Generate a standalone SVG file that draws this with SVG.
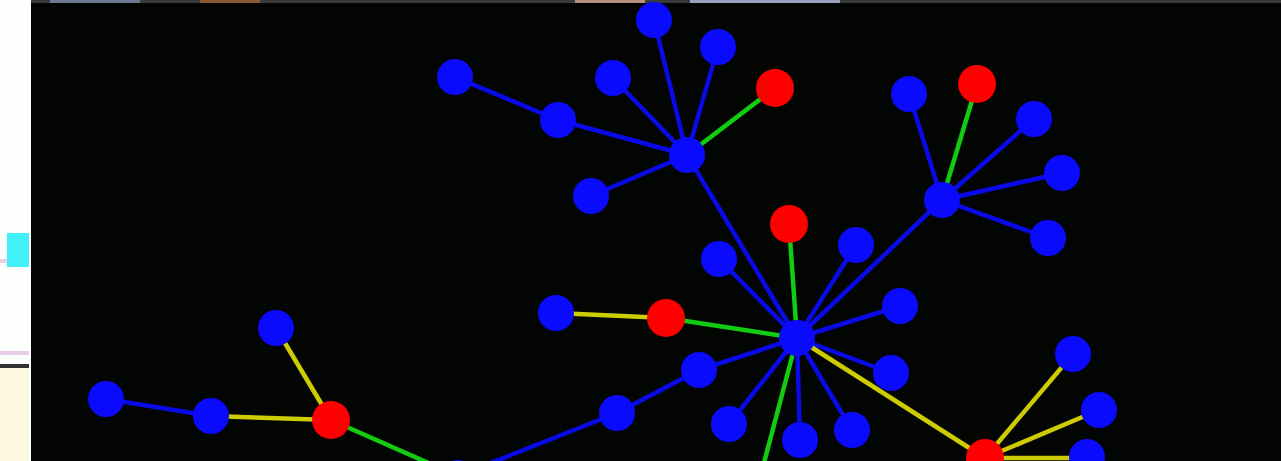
<svg xmlns="http://www.w3.org/2000/svg" width="1281" height="461" viewBox="0 0 1281 461">
<style>
.b{fill:#0a0aff}
.r{fill:#ff0000}
.e{stroke-width:4.5;stroke-linecap:round;fill:none}
.eb{stroke:#0a0ae6}
.eg{stroke:#11cc11}
.ey{stroke:#cccc00}
</style>
<rect x="0" y="0" width="1281" height="461" fill="#fdfffd"/>
<rect x="7" y="233" width="22" height="34" fill="#44f0f8"/>
<rect x="0" y="259" width="7" height="4" fill="#e8cce8"/>
<rect x="0" y="351" width="29" height="4" fill="#e8cce8"/>
<rect x="0" y="364" width="29" height="4" fill="#333"/>
<rect x="0" y="368" width="29" height="93" fill="#fdf6e0"/>
<rect x="31" y="0" width="1250" height="461" fill="#030503"/>
<rect x="31" y="0" width="1250" height="3" fill="#3a3a3a"/>
<rect x="50" y="0" width="90" height="3" fill="#6a7a90"/>
<rect x="200" y="0" width="60" height="3" fill="#8a5a30"/>
<rect x="575" y="0" width="70" height="3" fill="#b89080"/>
<rect x="690" y="0" width="150" height="3" fill="#9aa0c0"/>
<g id="connectors" class="e">
<line class="e eb" x1="455" y1="77" x2="558" y2="120"/>
<line class="e eb" x1="558" y1="120" x2="687" y2="155"/>
<line class="e eb" x1="654" y1="20" x2="687" y2="155"/>
<line class="e eb" x1="718" y1="47" x2="687" y2="155"/>
<line class="e eg" x1="775" y1="88" x2="687" y2="155"/>
<line class="e eb" x1="613" y1="78" x2="687" y2="155"/>
<line class="e eb" x1="591" y1="196" x2="687" y2="155"/>
<line class="e eb" x1="687" y1="155" x2="797" y2="338"/>
<line class="e eb" x1="909" y1="94" x2="942" y2="200"/>
<line class="e eg" x1="977" y1="84" x2="942" y2="200"/>
<line class="e eb" x1="1034" y1="119" x2="942" y2="200"/>
<line class="e eb" x1="1062" y1="173" x2="942" y2="200"/>
<line class="e eb" x1="1048" y1="238" x2="942" y2="200"/>
<line class="e eb" x1="942" y1="200" x2="797" y2="338"/>
<line class="e eg" x1="789" y1="224" x2="797" y2="338"/>
<line class="e eb" x1="856" y1="245" x2="797" y2="338"/>
<line class="e eb" x1="719" y1="259" x2="797" y2="338"/>
<line class="e eb" x1="900" y1="306" x2="797" y2="338"/>
<line class="e eg" x1="666" y1="318" x2="797" y2="338"/>
<line class="e ey" x1="556" y1="313" x2="666" y2="318"/>
<line class="e eb" x1="699" y1="370" x2="797" y2="338"/>
<line class="e eb" x1="617" y1="413" x2="699" y2="370"/>
<line class="e eb" x1="458" y1="476" x2="617" y2="413"/>
<line class="e eb" x1="891" y1="373" x2="797" y2="338"/>
<line class="e eb" x1="729" y1="424" x2="797" y2="338"/>
<line class="e eb" x1="800" y1="440" x2="797" y2="338"/>
<line class="e eb" x1="852" y1="430" x2="797" y2="338"/>
<line class="e eg" x1="760" y1="478" x2="797" y2="338"/>
<line class="e ey" x1="985" y1="458" x2="797" y2="338"/>
<line class="e ey" x1="985" y1="458" x2="1073" y2="354"/>
<line class="e ey" x1="985" y1="458" x2="1099" y2="410"/>
<line class="e ey" x1="985" y1="458" x2="1087" y2="458"/>
<line class="e ey" x1="331" y1="420" x2="276" y2="328"/>
<line class="e ey" x1="331" y1="420" x2="211" y2="416"/>
<line class="e eb" x1="211" y1="416" x2="106" y2="399"/>
<line class="e eg" x1="331" y1="420" x2="458" y2="476"/>
</g>
<g id="n-a"><circle class="b" cx="687" cy="155" r="18"/></g>
<g id="n-a1"><circle class="b" cx="654" cy="20" r="18"/></g>
<g id="n-a2"><circle class="b" cx="718" cy="47" r="18"/></g>
<g id="n-a3"><circle class="r" cx="775" cy="88" r="19"/></g>
<g id="n-a4"><circle class="b" cx="613" cy="78" r="18"/></g>
<g id="n-a5"><circle class="b" cx="558" cy="120" r="18"/></g>
<g id="n-a6"><circle class="b" cx="455" cy="77" r="18"/></g>
<g id="n-a7"><circle class="b" cx="591" cy="196" r="18"/></g>
<g id="n-c"><circle class="b" cx="942" cy="200" r="18"/></g>
<g id="n-c1"><circle class="b" cx="909" cy="94" r="18"/></g>
<g id="n-c2"><circle class="r" cx="977" cy="84" r="19"/></g>
<g id="n-c3"><circle class="b" cx="1034" cy="119" r="18"/></g>
<g id="n-c4"><circle class="b" cx="1062" cy="173" r="18"/></g>
<g id="n-c5"><circle class="b" cx="1048" cy="238" r="18"/></g>
<g id="n-b"><circle class="b" cx="797" cy="338" r="18"/></g>
<g id="n-b1"><circle class="r" cx="789" cy="224" r="19"/></g>
<g id="n-b2"><circle class="b" cx="856" cy="245" r="18"/></g>
<g id="n-b3"><circle class="b" cx="719" cy="259" r="18"/></g>
<g id="n-b4"><circle class="b" cx="900" cy="306" r="18"/></g>
<g id="n-b5"><circle class="r" cx="666" cy="318" r="19"/></g>
<g id="n-b6"><circle class="b" cx="556" cy="313" r="18"/></g>
<g id="n-b7"><circle class="b" cx="699" cy="370" r="18"/></g>
<g id="n-b8"><circle class="b" cx="617" cy="413" r="18"/></g>
<g id="n-b9"><circle class="b" cx="891" cy="373" r="18"/></g>
<g id="n-b10"><circle class="b" cx="729" cy="424" r="18"/></g>
<g id="n-b11"><circle class="b" cx="800" cy="440" r="18"/></g>
<g id="n-b12"><circle class="b" cx="852" cy="430" r="18"/></g>
<g id="n-b13"><circle class="r" cx="760" cy="480" r="19"/></g>
<g id="n-d"><circle class="r" cx="985" cy="458" r="19"/></g>
<g id="n-d1"><circle class="b" cx="1073" cy="354" r="18"/></g>
<g id="n-d2"><circle class="b" cx="1099" cy="410" r="18"/></g>
<g id="n-d3"><circle class="b" cx="1087" cy="457" r="18"/></g>
<g id="n-e"><circle class="r" cx="331" cy="420" r="19"/></g>
<g id="n-e1"><circle class="b" cx="276" cy="328" r="18"/></g>
<g id="n-e2"><circle class="b" cx="211" cy="416" r="18"/></g>
<g id="n-e3"><circle class="b" cx="106" cy="399" r="18"/></g>
<g id="n-f"><circle class="b" cx="458" cy="478" r="18"/></g>
</svg>
